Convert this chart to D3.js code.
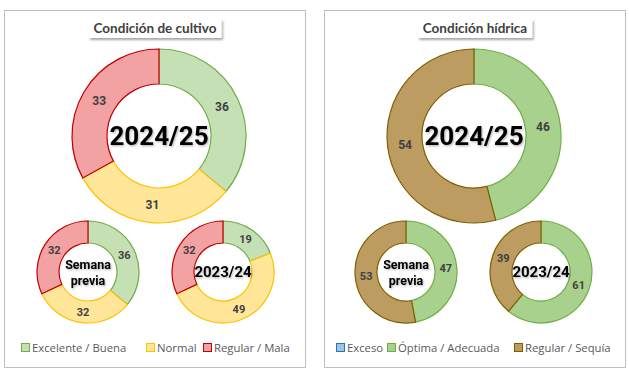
<!DOCTYPE html>
<html>
<head>
<meta charset="utf-8">
<script src="https://cdn.jsdelivr.net/npm/d3@7"></script>
<style>
  body { margin: 0; background: #fff; }
  svg { display: block; }
</style>
</head>
<body>
<div id="chart"></div>
<script>
// Data
const cultivoCats = ['Excelente / Buena', 'Normal', 'Regular / Mala'];
const cultivoActual = [36, 31, 33];
const cultivoSemana = [36, 32, 32];
const cultivoAnterior = [19, 49, 32];

const hidricaCats = ['Exceso', 'Óptima / Adecuada', 'Regular / Sequía'];
const hidricaActual = [0, 46, 54];
const hidricaSemana = [0, 47, 53];
const hidricaAnterior = [0, 61, 39];

const centerLabels = ['2024/25', 'Semana previa', '2023/24'];
const titles = ['Condición de cultivo', 'Condición hídrica'];

const width = 629;
const height = 375;

const svg = d3.select('#chart')
  .append('svg')
  .attr('width', width)
  .attr('height', height);

const defs = svg.append('defs');
defs.append('filter')
  .attr('id', 'boxShadow')
  .attr('x', '-20%').attr('y', '-40%').attr('width', '140%').attr('height', '200%')
  .append('feDropShadow')
  .attr('dx', 1.5).attr('dy', 2).attr('stdDeviation', 1.2)
  .attr('flood-color', '#000').attr('flood-opacity', 0.35);
defs.append('filter')
  .attr('id', 'textShadow')
  .attr('x', '-10%').attr('y', '-20%').attr('width', '130%').attr('height', '150%')
  .append('feDropShadow')
  .attr('dx', 1).attr('dy', 1.2).attr('stdDeviation', 0.8)
  .attr('flood-color', '#000').attr('flood-opacity', 0.3);

const panels = [
  {
    x: 4.5, title: titles[0], cats: cultivoCats,
    series: [cultivoActual, cultivoSemana, cultivoAnterior],
    fills: ['#c5e0b4', '#ffe699', '#f2a2a2'],
    strokes: ['#70ad47', '#ffc000', '#c00000'],
    centers: [[159, 136], [88, 272], [223, 272]],
    legendX: [21, 146, 203]
  },
  {
    x: 324.5, title: titles[1], cats: hidricaCats,
    series: [hidricaActual, hidricaSemana, hidricaAnterior],
    fills: ['#9dc3e6', '#a9d18e', '#bc9c61'],
    strokes: ['#2e75b6', '#70ad47', '#7f6000'],
    centers: [[474, 136], [406, 272], [541, 272]],
    legendX: [336, 387, 514]
  }
];

const pie = d3.pie().sort(null).value((d) => d);

panels.forEach((p) => {
  const g = svg.append('g');

  // Panel border
  g.append('rect')
    .attr('x', p.x)
    .attr('y', 10.5)
    .attr('width', 301)
    .attr('height', 357)
    .attr('fill', '#fff')
    .attr('stroke', '#bfbfbf')
    .attr('stroke-width', 1);

  // Title box with shadow
  const cx = p.x + 150.5;
  const titleG = g.append('g');
  const titleBox = titleG.append('rect')
    .attr('fill', '#fff')
    .attr('filter', 'url(#boxShadow)');
  const titleText = titleG.append('text')
    .attr('x', cx)
    .attr('y', 33)
    .attr('text-anchor', 'middle')
    .attr('font-family', 'Lato, "Open Sans", sans-serif')
    .attr('font-weight', 700)
    .attr('font-size', 13.5)
    .attr('fill', '#404040')
    .text(p.title);
  const tw = titleText.node().getComputedTextLength();
  titleBox
    .attr('x', cx - tw / 2 - 5)
    .attr('y', 19)
    .attr('width', tw + 10)
    .attr('height', 19);

  // Donuts
  p.series.forEach((values, k) => {
    const [dx, dy] = p.centers[k];
    const outer = k === 0 ? 87 : 51;
    const inner = k === 0 ? 52 : 29;
    const arc = d3.arc().innerRadius(inner).outerRadius(outer);
    const labelArc = d3.arc().innerRadius((inner + outer) / 2).outerRadius((inner + outer) / 2);

    const dg = g.append('g').attr('transform', `translate(${dx},${dy})`);
    const arcs = pie(values).map((d, i) => ({ ...d, i })).filter((d) => d.value > 0);

    dg.selectAll('path')
      .data(arcs)
      .join('path')
      .attr('d', arc)
      .attr('fill', (d) => p.fills[d.i])
      .attr('stroke', (d) => p.strokes[d.i])
      .attr('stroke-width', 1.2);

    dg.selectAll('text.val')
      .data(arcs)
      .join('text')
      .attr('class', 'val')
      .attr('transform', (d) => `translate(${labelArc.centroid(d)})`)
      .attr('text-anchor', 'middle')
      .attr('dy', '0.35em')
      .attr('font-family', 'Roboto, sans-serif')
      .attr('font-weight', 700)
      .attr('font-size', k === 0 ? 12 : 11)
      .attr('fill', '#404040')
      .text((d) => d.value);

    // Center label
    const words = k === 1 ? centerLabels[k].split(' ') : [centerLabels[k]];
    const fs = k === 0 ? 26 : (k === 1 ? 12.5 : 15);
    const ct = dg.append('text')
      .attr('text-anchor', 'middle')
      .attr('font-family', 'Roboto, sans-serif')
      .attr('font-weight', 700)
      .attr('font-size', fs)
      .attr('fill', '#000')
      .attr('filter', 'url(#textShadow)');
    words.forEach((w, j) => {
      ct.append('tspan')
        .attr('x', 0)
        .attr('y', words.length === 1 ? 0 : (j === 0 ? -7 : 9))
        .attr('dy', '0.35em')
        .text(w);
    });
  });

  // Legend
  const lg = g.append('g').attr('transform', 'translate(0,348)');
  p.cats.forEach((c, i) => {
    const item = lg.append('g').attr('transform', `translate(${p.legendX[i]},0)`);
    item.append('rect')
      .attr('x', 0.5)
      .attr('y', -4.5)
      .attr('width', 8)
      .attr('height', 8)
      .attr('fill', p.fills[i])
      .attr('stroke', p.strokes[i])
      .attr('stroke-width', 1);
    item.append('text')
      .attr('x', 11)
      .attr('y', 0)
      .attr('dy', '0.35em')
      .attr('font-family', '"Open Sans", Lato, sans-serif')
      .attr('font-size', 11.3)
      .attr('fill', '#595959')
      .text(c);
  });
});
</script>
</body>
</html>
